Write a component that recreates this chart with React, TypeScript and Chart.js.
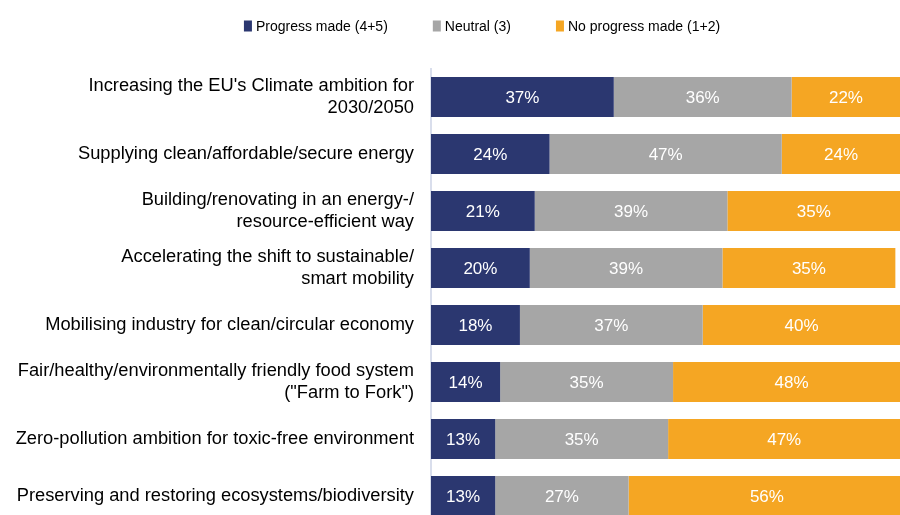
import React, { useEffect, useRef } from "react";
import { Chart, registerables } from "chart.js";

Chart.register(...registerables);

const categories: (string | string[])[] = [
  ["Increasing the EU's Climate ambition for", "2030/2050"],
  "Supplying clean/affordable/secure energy",
  ["Building/renovating in an energy-/", "resource-efficient way"],
  ["Accelerating the shift to sustainable/", "smart mobility"],
  "Mobilising industry for clean/circular economy",
  ["Fair/healthy/environmentally friendly food system", "(\"Farm to Fork\")"],
  "Zero-pollution ambition for toxic-free environment",
  "Preserving and restoring ecosystems/biodiversity",
];

const progressMade = [37, 24, 21, 20, 18, 14, 13, 13];
const neutral = [36, 47, 39, 39, 37, 35, 35, 27];
const noProgress = [22, 24, 35, 35, 40, 48, 47, 56];

const seriesNames = ["Progress made (4+5)", "Neutral (3)", "No progress made (1+2)"];
const seriesColors = ["#2B3770", "#A6A6A6", "#F5A623"];

const FONT = "'Liberation Sans', Arial, sans-serif";

const labelPlugin = {
  id: "barLabels",
  afterDatasetsDraw(chart: any) {
    const ctx = chart.ctx;
    ctx.save();
    ctx.font = `17px ${FONT}`;
    ctx.fillStyle = "#FFFFFF";
    ctx.textAlign = "center";
    ctx.textBaseline = "middle";
    chart.data.datasets.forEach((ds: any, di: number) => {
      const meta = chart.getDatasetMeta(di);
      meta.data.forEach((bar: any, i: number) => {
        const v = ds.data[i];
        const cx = (bar.base + bar.x) / 2;
        ctx.fillText(`${v}%`, cx, bar.y + 1);
      });
    });
    ctx.restore();
  },
};

const legendPlugin = {
  id: "customLegend",
  afterDraw(chart: any) {
    const ctx = chart.ctx;
    ctx.save();
    ctx.font = `14px ${FONT}`;
    ctx.textBaseline = "middle";
    ctx.textAlign = "left";
    const boxW = 8;
    const boxH = 11;
    const gapText = 4;
    const gapItem = 45;
    const items = chart.data.datasets.map((ds: any) => ({
      label: ds.label,
      color: ds.backgroundColor,
      w: ctx.measureText(ds.label).width,
    }));
    const total =
      items.reduce((s: number, it: any) => s + boxW + gapText + it.w, 0) + gapItem * (items.length - 1);
    const centerX = 482;
    const cy = 26;
    let x = centerX - total / 2;
    items.forEach((it: any) => {
      ctx.fillStyle = it.color;
      ctx.fillRect(x, cy - boxH / 2, boxW, boxH);
      x += boxW + gapText;
      ctx.fillStyle = "#000";
      ctx.fillText(it.label, x, cy + 1);
      x += it.w + gapItem;
    });
    ctx.restore();
  },
};

export default function App() {
  const ref = useRef<HTMLCanvasElement | null>(null);
  useEffect(() => {
    document.body.style.margin = "0";
    const chart = new Chart(ref.current!, {
      type: "bar",
      data: {
        labels: categories,
        datasets: [
          { label: seriesNames[0], data: progressMade, backgroundColor: seriesColors[0] },
          { label: seriesNames[1], data: neutral, backgroundColor: seriesColors[1] },
          { label: seriesNames[2], data: noProgress, backgroundColor: seriesColors[2] },
        ],
      },
      options: {
        indexAxis: "y",
        animation: false,
        responsive: false,
        maintainAspectRatio: false,
        datasets: { bar: { barPercentage: 0.7, categoryPercentage: 1 } },
        layout: { padding: { left: 0, right: 10, top: 68.5, bottom: 10.5 } },
        plugins: {
          legend: { display: false },
          tooltip: { enabled: false },
        },
        scales: {
          x: {
            stacked: true,
            min: 0,
            max: 100,
            display: false,
          },
          y: {
            stacked: true,
            afterFit(scale: any) {
              scale.width = 431;
              scale.paddingTop = 0;
              scale.paddingBottom = 0;
            },
            grid: { display: false, drawTicks: false },
            border: { display: true, color: "#D9DEEC", width: 2 },
            ticks: {
              padding: 17,
              color: "#000",
              font: { family: FONT, size: 18.3, lineHeight: 1.2 },
            },
          },
        },
      },
      plugins: [labelPlugin, legendPlugin],
    });
    return () => chart.destroy();
  }, []);
  return (
    <div style={{ position: "fixed", left: 0, top: 0, width: 900, height: 515, overflow: "hidden", background: "#fff" }}>
      <canvas ref={ref} width={935} height={535} style={{ display: "block" }} />
    </div>
  );
}
